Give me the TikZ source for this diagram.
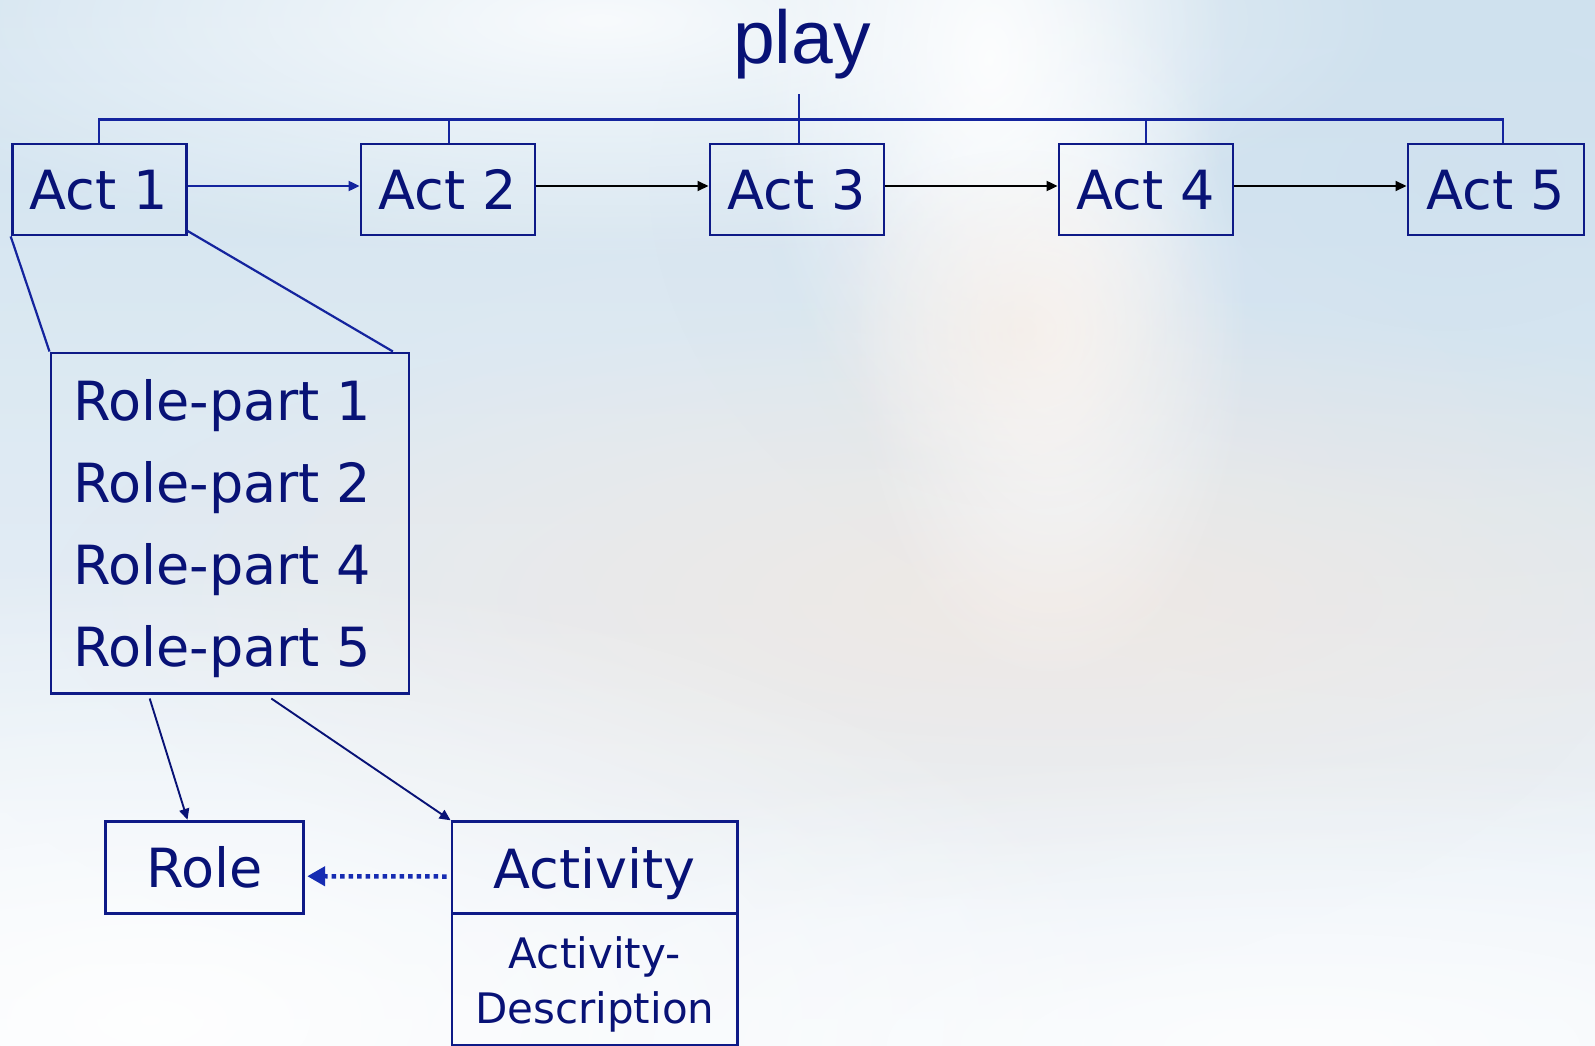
\documentclass[tikz,border=0pt]{standalone}
\usepackage{fontspec}
\setmainfont{DejaVu Sans}
\newfontfamily\playfont{Liberation Sans}
\usetikzlibrary{arrows.meta,fadings}

\definecolor{inknavy}{RGB}{8,18,118}
\definecolor{framenavy}{RGB}{14,26,135}
\definecolor{wireblue}{RGB}{20,36,158}
\definecolor{dotblue}{RGB}{22,44,178}
\definecolor{skytop}{RGB}{208,226,239}
\definecolor{skylow}{RGB}{240,245,250}
\definecolor{haze}{RGB}{228,234,240}
\definecolor{peach}{RGB}{243,232,224}
\definecolor{coolblue}{RGB}{206,224,238}

% radial fade used for the soft background glows
\tikzfading[name=softglow, inner color=transparent!0, outer color=transparent!100]

\tikzset{
  actbox/.style={draw=framenavy, line width=2.8pt, minimum width=174pt,
    minimum height=91pt, inner sep=0pt, text depth=0pt, text=inknavy,
    font=\fontsize{54}{60}\selectfont},
  plainbox/.style={draw=framenavy, line width=2.8pt, inner sep=0pt,
    text depth=0pt, text=inknavy, font=\fontsize{54}{60}\selectfont},
  listtext/.style={text=inknavy, inner sep=0pt, align=left,
    font=\fontsize{54}{82.2}\selectfont},
  desctext/.style={text=inknavy, inner sep=0pt, align=center,
    font=\fontsize{42}{55}\selectfont},
  bartrack/.style={draw=wireblue, line width=2.2pt},
  zoomline/.style={draw=wireblue, line width=2.2pt},
  seqarrow/.style={line width=1.9pt, -{Triangle[length=11pt,width=10pt]}},
  linkarrow/.style={draw=inknavy, line width=1.9pt,
    -{Triangle[length=11pt,width=10pt]}},
  dotarrow/.style={draw=dotblue, line width=4.5pt,
    dash pattern=on 4.5pt off 4pt, -{Triangle[length=18pt,width=19pt]}},
  glow/.style={path fading=softglow},
}

\begin{document}
\begin{tikzpicture}[x=1pt,y=-1pt]
\useasboundingbox (0,0) rectangle (1595,1046);

% ---- background ----
\fill[top color=skytop, bottom color=skylow] (0,0) rectangle (1595,1046);
\fill[coolblue, glow, opacity=0.7] (1450,180) ellipse [x radius=800pt, y radius=520pt];
\fill[haze, glow, opacity=0.5] (760,560) ellipse [x radius=900pt, y radius=460pt];
\fill[peach, glow, opacity=0.75] (1050,600) ellipse [x radius=1000pt, y radius=300pt];
\fill[white, glow, opacity=0.95] (150,1020) ellipse [x radius=1000pt, y radius=460pt];
\fill[white, glow, opacity=0.8] (1300,1046) ellipse [x radius=1100pt, y radius=300pt];
\fill[white, glow, opacity=0.85] (600,20) ellipse [x radius=800pt, y radius=240pt];
\fill[white, glow, opacity=0.9] (990,60) ellipse [x radius=240pt, y radius=420pt];
\fill[white, glow, opacity=0.8] (1050,330) ellipse [x radius=200pt, y radius=360pt];
\fill[peach, glow, opacity=0.6] (1020,330) ellipse [x radius=220pt, y radius=180pt];

% ---- title ----
\node[anchor=base, inner sep=0pt, text=inknavy,
  font=\playfont\fontsize{75}{80}\selectfont] (play) at (802,64) {play};

% ---- acts ----
\node[actbox] (a1) at (99.1,189.5) {Act 1};
\node[actbox] (a2) at (448,189.5) {Act 2};
\node[actbox] (a3) at (796.9,189.5) {Act 3};
\node[actbox] (a4) at (1146,189.5) {Act 4};
\node[actbox, minimum width=176pt] (a5) at (1495.9,189.5) {Act 5};

% bracket joining the acts to the play
\coordinate (bar) at (0,119.5);
\coordinate (stemtop) at ([yshift=-14.4pt]play.south);
\draw[bartrack] (a1.north) -- (a1.north |- bar) -| ([xshift=7pt]a5.north);
\draw[bartrack] ([xshift=1pt]a2.north) -- ([xshift=1pt]a2.north |- bar);
\draw[bartrack] ([xshift=2pt]a3.north) -- ([xshift=2pt]a3.north |- stemtop);
\draw[bartrack] (a4.north) -- (a4.north |- bar);

% sequence of acts
\draw[seqarrow, wireblue] ([yshift=3.5pt]a1.east) -- ([yshift=3.5pt]a2.west);
\draw[seqarrow, black] ([yshift=3.5pt]a2.east) -- ([yshift=3.5pt]a3.west);
\draw[seqarrow, black] ([yshift=3.5pt]a3.east) -- ([yshift=3.5pt]a4.west);
\draw[seqarrow, black] ([yshift=3.5pt]a4.east) -- ([yshift=3.5pt]a5.west);

% ---- role-parts of act 1 ----
\node[plainbox, line width=2.4pt, minimum width=358pt, minimum height=340.6pt]
  (rp) at (229.7,523) {};
\node[listtext, anchor=north west] (rplist) at (73,379)
  {Role-part 1\\Role-part 2\\Role-part 4\\Role-part 5};
\draw[zoomline] (a1.south west) -- (rp.north west);
\draw[zoomline] ([yshift=5.5pt]a1.south east) -- ([xshift=-17pt]rp.north east);

% ---- role and activity ----
\node[plainbox, minimum width=197.4pt, minimum height=92pt] (role) at (204.5,867.2) {Role};
\node[plainbox, minimum width=285.4pt, minimum height=91.6pt] (act) at (594.7,867.5) {Activity};
\node[plainbox, minimum width=285.4pt, minimum height=131.7pt] (desc) at (594.7,979.2) {};
\node[desctext, anchor=north] (desctxt) at (594.7,936.4) {Activity-\\Description};

\draw[linkarrow] ([xshift=-80pt,yshift=-4pt]rp.south) -- ([xshift=-17pt]role.north);
\draw[linkarrow] ([xshift=41.6pt,yshift=-4pt]rp.south) -- (act.north west);
\draw[dotarrow] ([xshift=-4pt,yshift=-9pt]act.west) -- ([xshift=2.6pt,yshift=-9pt]role.east);
\end{tikzpicture}
\end{document}
